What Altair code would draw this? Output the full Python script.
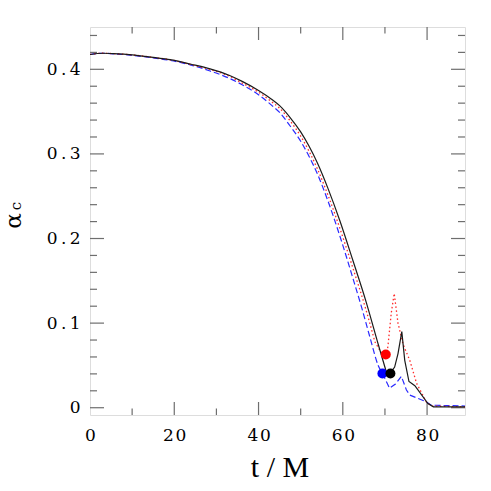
import altair as alt
import pandas as pd

# ---- data ----
black_t = [0, 3, 5.5, 10, 15, 19, 24, 28.5, 33, 36, 40, 43, 45, 47.5, 50, 52, 54, 56.5, 59.3, 62.4, 65.6, 68.4, 70.4, 71.3, 72.3, 73.1, 74.0, 74.7, 75.7, 77.1, 80.2, 81.5, 89]
black_y = [0.4175, 0.419, 0.4185, 0.417, 0.414, 0.4115, 0.406, 0.4005, 0.393, 0.386, 0.375, 0.365, 0.357, 0.343, 0.326, 0.309, 0.289, 0.259, 0.221, 0.174, 0.124, 0.075, 0.041, 0.041, 0.048, 0.064, 0.090, 0.056, 0.031, 0.026, 0.005, 0.001, 0.001]

red_t = [0, 3, 5.5, 10, 15, 19, 24, 28.5, 33, 36, 40, 43, 45, 47.5, 50, 52, 54, 56.5, 59.3, 62.4, 65.6, 66.4, 67.6, 69.0, 70.2, 70.7, 71.5, 72.2, 73.1, 74.3, 75.9, 77.5, 79.8, 81, 89]
red_y = [0.4175, 0.419, 0.4185, 0.417, 0.414, 0.4113, 0.4055, 0.3998, 0.392, 0.384, 0.373, 0.362, 0.354, 0.339, 0.321, 0.303, 0.282, 0.251, 0.212, 0.165, 0.114, 0.100, 0.078, 0.066, 0.063, 0.072, 0.112, 0.135, 0.100, 0.075, 0.056, 0.029, 0.007, 0.002, 0.001]

blue_t = [0, 3, 5.5, 10, 15, 19, 24, 28.5, 33, 36, 40, 43, 45, 47.5, 50, 52, 54, 56.5, 59.3, 62.4, 64.5, 66.4, 68.4, 69.4, 71.1, 72.5, 73.9, 75.1, 75.9, 79.8, 81, 89]
blue_y = [0.4175, 0.419, 0.4183, 0.4165, 0.4135, 0.4105, 0.405, 0.398, 0.3895, 0.382, 0.370, 0.358, 0.349, 0.333, 0.315, 0.297, 0.276, 0.244, 0.203, 0.153, 0.118, 0.084, 0.050, 0.0405, 0.023, 0.028, 0.037, 0.021, 0.015, 0.007, 0.003, 0.002]

# where each smooth descent ends and the piecewise-linear part begins
black_split = 70.4
red_split = 67.6
blue_split = 69.4

dot_t = [70.2, 69.4, 71.3]
dot_y = [0.063, 0.0405, 0.0405]
dot_color = ["#ff0000", "#0000ff", "#000000"]

x_major = [20, 40, 60, 80]
x_minor = [10, 30, 50, 70]
x_labels = [0, 20, 40, 60, 80]
y_major = [0.0, 0.1, 0.2, 0.3, 0.4]
y_minor = [0.02, 0.04, 0.06, 0.08, 0.12, 0.14, 0.16, 0.18, 0.22, 0.24, 0.26, 0.28,
           0.32, 0.34, 0.36, 0.38, 0.42, 0.44]

W, H = 375, 388
FONT = "DejaVu Serif"
TICK = "#6e6e6e"

xscale = alt.Scale(domain=[0, 89], nice=False, zero=False)
yscale = alt.Scale(domain=[-0.0086, 0.45], nice=False, zero=False)
xaxis = alt.Axis(values=x_labels, domain=False, ticks=False, grid=False, title=None,
                 labelFont=FONT, labelFontSize=17, labelPadding=12, labelColor="black",
                 labelFlush=False,
                 labelExpr="datum.value == 0 ? '0' : replace(toString(datum.value), '0', '\u200a0')")
yaxis = alt.Axis(values=y_major, domain=False, ticks=False, grid=False, title=None,
                 labelFont=FONT, labelFontSize=17, labelPadding=10, labelColor="black",
                 labelFlush=False,
                 labelExpr="datum.value == 0 ? '0' : replace(format(datum.value, '.1f'), '.', '\u2009.\u2009')")

X = lambda f: alt.X(f, type="quantitative", scale=xscale, axis=xaxis)
Y = lambda f: alt.Y(f, type="quantitative", scale=yscale, axis=yaxis)

def series_layers(t, y, split, **style):
    df = pd.DataFrame({"t": t, "y": y, "o": list(range(len(t)))})
    smooth = df[df["t"] <= split]
    sharp = df[df["t"] >= split]
    a = alt.Chart(smooth).mark_line(interpolate="monotone", **style).encode(
        x=X("t"), y=Y("y"), order="o:Q")
    b = alt.Chart(sharp).mark_line(interpolate="linear", **style).encode(
        x=X("t"), y=Y("y"), order="o:Q")
    return [a, b]

blk = series_layers(black_t, black_y, black_split, color="#1a1a1a", strokeWidth=1.2)
red = series_layers(red_t, red_y, red_split, color="#ff2a2a", strokeWidth=1.3, strokeDash=[1.5, 2.5])
blu = series_layers(blue_t, blue_y, blue_split, color="#2a2aff", strokeWidth=1.2, strokeDash=[6, 3])

dots = alt.Chart(pd.DataFrame({"t": dot_t, "y": dot_y, "c": dot_color})).mark_point(
    filled=True, size=100, opacity=1, shape="circle").encode(
    x=X("t"), y=Y("y"), color=alt.Color("c:N", scale=None))

def xticks(vals, length):
    d = pd.DataFrame({"v": vals})
    bot = alt.Chart(d).mark_rule(color=TICK, strokeWidth=1.2).encode(
        x=X("v"), y=alt.value(H), y2=alt.value(H - length))
    top = alt.Chart(d).mark_rule(color=TICK, strokeWidth=1.2).encode(
        x=X("v"), y=alt.value(0), y2=alt.value(length))
    return [bot, top]

def yticks(vals, length):
    d = pd.DataFrame({"v": vals})
    left = alt.Chart(d).mark_rule(color=TICK, strokeWidth=1.2).encode(
        y=Y("v"), x=alt.value(0), x2=alt.value(length))
    right = alt.Chart(d).mark_rule(color=TICK, strokeWidth=1.2).encode(
        y=Y("v"), x=alt.value(W), x2=alt.value(W - length))
    return [left, right]

ticks = xticks(x_major, 13) + xticks(x_minor, 6.5) + yticks(y_major, 14) + yticks(y_minor, 7)

one = pd.DataFrame({"a": [0]})
xtitle = alt.Chart(one).mark_text(text="t / M", font="Liberation Serif", fontSize=30,
                                  align="center", baseline="alphabetic", color="black").encode(
    x=alt.value(190), y=alt.value(450))
alpha = alt.Chart(one).mark_text(text="α", font="DejaVu Serif", fontSize=23, angle=270,
                                 align="center", baseline="alphabetic", color="black").encode(
    x=alt.value(-69), y=alt.value(194))
sub_c = alt.Chart(one).mark_text(text="c", font="DejaVu Serif", fontSize=15, angle=270,
                                 align="center", baseline="alphabetic", color="black").encode(
    x=alt.value(-69), y=alt.value(179))

chart = alt.layer(*ticks, *blu, *red, *blk, dots, xtitle, alpha, sub_c).properties(
    width=W, height=H,
    autosize=alt.AutoSizeParams(type="none"),
    padding={"left": 82, "top": 19, "right": 10, "bottom": 68},
).configure_view(stroke="#6e6e6e", strokeWidth=1.5).configure(background="white")

chart.save("out.html", embed_options={"renderer": "svg", "actions": False})
